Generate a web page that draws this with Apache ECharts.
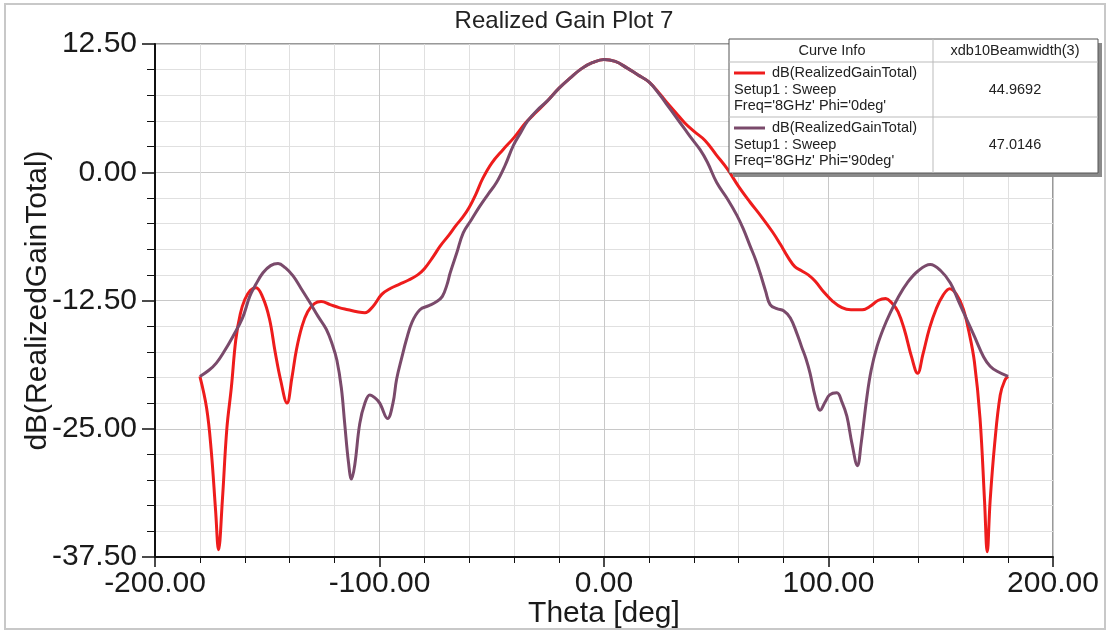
<!DOCTYPE html>
<html>
<head>
  <meta charset="UTF-8" />
  <title>Realized Gain Plot 7</title>
  <script src="https://cdn.jsdelivr.net/npm/echarts@6/dist/echarts.min.js"></script>
  <style>
    body { margin: 0; padding: 0; background: #fff; }
    #main { width: 1110px; height: 634px; }
  </style>
</head>
<body>
  <div id="main"></div>
  <script>
    // Phi = 0deg (red)
    const theta0 = [-180, -177, -175, -173, -171.7, -170, -168, -166, -164, -162, -160, -157.5, -155, -152, -149, -146.5, -144, -141.2, -139, -137, -134.5, -132, -129, -126, -122, -118, -114, -110, -106.5, -103, -99, -95, -91, -87, -83, -80, -76, -73, -69, -66, -63, -60, -57, -54, -50, -45, -40, -35, -30, -25, -20, -15, -10, -5, 0, 5, 10, 15, 20, 25, 28, 32, 36, 40, 45, 50, 55, 60, 65, 70, 75, 78.5, 82, 85, 88, 91, 94, 98, 102, 106, 110, 115, 119, 122, 125.5, 128, 131, 134, 137, 139.7, 142, 145, 148, 151, 154, 157, 160, 162.5, 165, 167.5, 169.5, 170.7, 172, 174, 176.5, 178.5, 180];
    const gain0 = [-19.9, -23, -27, -33, -36.8, -32, -25, -21, -16.3, -13.8, -12.4, -11.5, -11.25, -12.2, -14.3, -17.5, -20.3, -22.5, -20, -17.3, -15, -13.6, -12.8, -12.6, -12.9, -13.2, -13.4, -13.6, -13.7, -13.1, -11.9, -11.3, -10.9, -10.5, -10.0, -9.4, -8.2, -7.2, -6.1, -5.2, -4.4, -3.4, -2.1, -0.6, 0.9, 2.2, 3.4, 4.8, 5.9, 7.0, 8.2, 9.2, 10.1, 10.7, 11.0, 10.8, 10.2, 9.5, 8.8, 7.6, 6.8, 5.8, 4.8, 4.0, 3.1, 1.7, 0.3, -1.4, -2.9, -4.3, -5.8, -7.0, -8.3, -9.2, -9.6, -10.0, -10.6, -11.7, -12.6, -13.2, -13.4, -13.4, -13.0, -12.5, -12.3, -12.7, -13.6, -15.5, -18.0, -19.6, -17.8, -15.2, -13.3, -12.0, -11.35, -11.9, -13.3, -15.5, -18.5, -24, -32, -37.0, -32, -26.5, -21.7, -20.3, -19.9];

    // Phi = 90deg (purple)
    const theta90 = [-180, -176, -172.7, -169, -165.3, -161, -157.8, -155, -151.9, -148.5, -145.2, -142, -138.5, -135, -131, -127.5, -123.7, -121, -119, -117, -115.5, -113.8, -112.5, -111, -108.8, -106.5, -104.3, -102, -99.9, -96.4, -94, -92.4, -90, -88, -85.5, -82, -78, -74.5, -72, -70, -68.5, -65.5, -62.7, -59, -55.3, -51.5, -47.9, -44, -40.4, -37, -34, -30, -25, -20, -15, -10, -5, 0, 5, 10, 15, 20, 25, 28, 32, 36, 39, 42.8, 46, 50.2, 55, 59.2, 62, 65.1, 67.5, 69.5, 72, 74, 77, 80, 83, 85.9, 88, 90, 91.8, 94, 96.3, 98.5, 100.5, 103.7, 106, 108.2, 110.5, 112.9, 114.5, 117.1, 119, 121.6, 124.5, 127.5, 131, 135, 140, 145.3, 150, 154.3, 158, 161.7, 165, 169.1, 172, 175.1, 180];
    const gain90 = [-19.9, -19.3, -18.6, -17.4, -16.0, -14.2, -12.1, -10.9, -9.8, -9.1, -8.9, -9.3, -10.1, -11.3, -12.7, -14.0, -15.3, -16.8, -18.3, -21, -24.5, -28.3, -29.9, -28.5, -24.5, -22.5, -21.7, -22, -22.5, -24.0, -22.5, -20.2, -18.0, -16.3, -14.6, -13.4, -13.0, -12.6, -12.1, -11.0, -9.8, -7.8, -5.9, -4.6, -3.3, -2.1, -1.0, 0.7, 2.6, 3.9, 5.0, 6.0, 7.0, 8.2, 9.2, 10.1, 10.7, 11.0, 10.8, 10.2, 9.5, 8.8, 7.5, 6.6, 5.4, 4.2, 3.3, 2.2, 1.0, -1.0, -2.6, -4.2, -5.5, -7.2, -8.5, -9.8, -11.6, -12.9, -13.3, -13.5, -14.2, -15.7, -17, -18.2, -19.6, -21.8, -23.2, -22.4, -21.7, -21.5, -22.4, -23.8, -26.5, -28.6, -26.5, -21.9, -19.3, -17.0, -15.2, -13.7, -12.2, -10.8, -9.6, -9.0, -9.6, -10.8, -12.6, -14.4, -16.0, -18.0, -18.9, -19.4, -19.9];

    const xTicks = [-200, -100, 0, 100, 200];
    const yTicks = [-37.5, -25, -12.5, 0, 12.5];
    const beamwidth = ['44.9692', '47.0146'];

    const RED = '#ee1c1c';
    const PURPLE = '#7a4a6b';
    const FONT = "'Liberation Sans', Arial, sans-serif";

    const zip = (xs, ys) => xs.map((x, i) => [x, ys[i]]);

    let chart = echarts.init(document.getElementById('main'));

    // curve info table, drawn as graphics
    const tx = 729, ty = 39, tw = 369, th = 134, colX = 933;
    const small = { fontSize: 14.5, fontFamily: FONT, fill: '#222' };
    function txt(x, y, s, align) {
      return { type: 'text', x: x, y: y, style: Object.assign({ text: s, align: align || 'left', verticalAlign: 'middle' }, small), z: 102 };
    }
    const table = [
      { type: 'rect', shape: { x: tx + 4, y: ty + 4, width: tw, height: th }, style: { fill: '#8a8a8a' }, z: 100 },
      { type: 'rect', shape: { x: tx, y: ty, width: tw, height: th }, style: { fill: '#fff', stroke: '#555', lineWidth: 1 }, z: 101 },
      { type: 'line', shape: { x1: tx, y1: 62, x2: tx + tw, y2: 62 }, style: { stroke: '#bbb', lineWidth: 1 }, z: 102 },
      { type: 'line', shape: { x1: tx, y1: 117, x2: tx + tw, y2: 117 }, style: { stroke: '#bbb', lineWidth: 1 }, z: 102 },
      { type: 'line', shape: { x1: colX, y1: ty, x2: colX, y2: ty + th }, style: { stroke: '#bbb', lineWidth: 1 }, z: 102 },
      txt(832, 51, 'Curve Info', 'center'),
      txt(1015, 51, 'xdb10Beamwidth(3)', 'center'),
      { type: 'line', shape: { x1: 734, y1: 73, x2: 765, y2: 73 }, style: { stroke: RED, lineWidth: 3 }, z: 102 },
      txt(772, 73, 'dB(RealizedGainTotal)'),
      txt(734, 90, 'Setup1 : Sweep'),
      txt(734, 106, "Freq='8GHz' Phi='0deg'"),
      txt(1015, 90, beamwidth[0], 'center'),
      { type: 'line', shape: { x1: 734, y1: 128, x2: 765, y2: 128 }, style: { stroke: PURPLE, lineWidth: 3 }, z: 102 },
      txt(772, 128, 'dB(RealizedGainTotal)'),
      txt(734, 145, 'Setup1 : Sweep'),
      txt(734, 161, "Freq='8GHz' Phi='90deg'"),
      txt(1015, 145, beamwidth[1], 'center')
    ];

    chart.setOption({
      backgroundColor: '#fff',
      animation: false,
      title: {
        text: 'Realized Gain Plot 7',
        left: 559,
        top: 4,
        textAlign: 'center',
        textStyle: { fontSize: 24, fontWeight: 'normal', color: '#222', fontFamily: FONT }
      },
      grid: {
        left: 155, right: 57, top: 44, bottom: 77,
        outerBoundsMode: 'none',
        show: true, borderColor: '#333', borderWidth: 1
      },
      xAxis: {
        type: 'value',
        min: xTicks[0],
        max: xTicks[xTicks.length - 1],
        interval: 100,
        name: 'Theta [deg]',
        nameLocation: 'middle',
        nameGap: 42,
        nameMoveOverlap: false,
        nameTextStyle: { fontSize: 30, color: '#1a1a1a', fontFamily: FONT },
        axisLine: { onZero: false, lineStyle: { color: '#111', width: 2 } },
        axisTick: { length: 10, lineStyle: { color: '#111', width: 1.5 } },
        minorTick: { show: true, splitNumber: 5, length: 6, lineStyle: { color: '#111' } },
        axisLabel: { fontSize: 30, color: '#1a1a1a', fontFamily: FONT, margin: 12, formatter: v => v.toFixed(2) },
        splitLine: { show: true, lineStyle: { color: '#c8c8c8', width: 1 } },
        minorSplitLine: { show: true, lineStyle: { color: '#e0e0e0', width: 1 } }
      },
      yAxis: {
        type: 'value',
        min: yTicks[0],
        max: yTicks[yTicks.length - 1],
        interval: 12.5,
        name: 'dB(RealizedGainTotal)',
        nameLocation: 'middle',
        nameGap: 102,
        nameMoveOverlap: false,
        nameTextStyle: { fontSize: 30, color: '#1a1a1a', fontFamily: FONT },
        axisLine: { show: true, onZero: false, lineStyle: { color: '#111', width: 2 } },
        axisTick: { show: true, length: 13, lineStyle: { color: '#111', width: 1.5 } },
        minorTick: { show: true, splitNumber: 5, length: 8, lineStyle: { color: '#111' } },
        axisLabel: { fontSize: 30, color: '#1a1a1a', fontFamily: FONT, margin: 18, formatter: v => v.toFixed(2) },
        splitLine: { show: true, lineStyle: { color: '#c8c8c8', width: 1 } },
        minorSplitLine: { show: true, lineStyle: { color: '#e0e0e0', width: 1 } }
      },
      series: [
        {
          name: "Phi='0deg'",
          type: 'line',
          data: zip(theta0, gain0),
          showSymbol: false,
          smooth: 0.4,
          lineStyle: { color: RED, width: 3 },
          z: 3
        },
        {
          name: "Phi='90deg'",
          type: 'line',
          data: zip(theta90, gain90),
          showSymbol: false,
          smooth: 0.4,
          lineStyle: { color: PURPLE, width: 3 },
          z: 4
        }
      ],
      graphic: [
        { type: 'rect', shape: { x: 5, y: 4, width: 1100, height: 625 }, style: { fill: 'none', stroke: '#c8c8c8', lineWidth: 2 }, z: 0, silent: true }
      ].concat(table)
    });
  </script>
</body>
</html>
